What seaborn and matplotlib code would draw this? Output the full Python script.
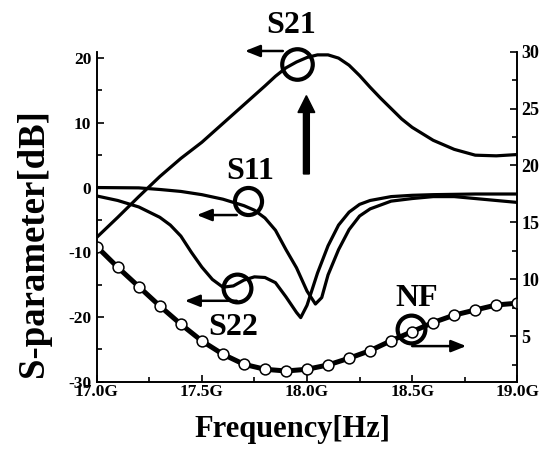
import numpy as np
import pandas as pd
import matplotlib
matplotlib.use("Agg")
import matplotlib.pyplot as plt
import seaborn as sns
from matplotlib.ticker import MultipleLocator, FuncFormatter

# ---- data ----
freq_s21 = [17.0, 17.1, 17.2, 17.3, 17.4, 17.5, 17.6, 17.7, 17.8, 17.85, 17.9, 17.95,
            18.0, 18.05, 18.1, 18.15, 18.2, 18.25, 18.3, 18.35, 18.4, 18.45, 18.5,
            18.6, 18.7, 18.8, 18.9, 19.0]
s21 = [-7.7, -4.6, -1.4, 1.7, 4.5, 7.0, 9.9, 12.8, 15.7, 17.2, 18.5, 19.4,
       20.1, 20.5, 20.5, 20.0, 18.9, 17.3, 15.5, 13.8, 12.2, 10.6, 9.3,
       7.3, 5.9, 5.0, 4.9, 5.1]

freq_s11 = [17.0, 17.2, 17.3, 17.4, 17.5, 17.6, 17.7, 17.75, 17.8, 17.85, 17.9, 17.95,
            18.0, 18.04, 18.07, 18.1, 18.15, 18.2, 18.25, 18.3, 18.4, 18.5, 18.6,
            18.7, 18.8, 18.9, 19.0]
s11 = [0.0, -0.05, -0.3, -0.6, -1.1, -1.8, -2.8, -3.5, -4.7, -6.6, -9.6, -12.4,
       -16.0, -18.0, -17.0, -13.5, -9.6, -6.5, -4.4, -3.3, -2.1, -1.7, -1.4,
       -1.4, -1.7, -2.0, -2.3]

freq_s22 = [17.0, 17.1, 17.2, 17.3, 17.35, 17.4, 17.45, 17.5, 17.55, 17.6, 17.65, 17.7,
            17.75, 17.8, 17.85, 17.9, 17.95, 17.97, 18.0, 18.05, 18.1, 18.15, 18.2,
            18.25, 18.3, 18.4, 18.5, 18.6, 18.8, 19.0]
s22 = [-1.3, -2.0, -3.0, -4.6, -5.8, -7.5, -10.0, -12.3, -14.2, -15.4, -15.2, -14.3,
       -13.8, -13.9, -14.7, -16.9, -19.3, -20.1, -18.2, -13.2, -9.0, -5.8, -3.8,
       -2.6, -2.0, -1.4, -1.2, -1.1, -1.0, -1.0]

freq_nf = [17.0, 17.1, 17.2, 17.3, 17.4, 17.5, 17.6, 17.7, 17.8, 17.9, 18.0,
           18.1, 18.2, 18.3, 18.4, 18.5, 18.6, 18.7, 18.8, 18.9, 19.0]
nf = [12.87, 11.05, 9.35, 7.65, 6.05, 4.58, 3.41, 2.53, 2.09, 1.94, 2.09,
      2.47, 3.06, 3.73, 4.6, 5.4, 6.2, 6.85, 7.3, 7.74, 7.9]

xticks = [17.0, 17.5, 18.0, 18.5, 19.0]
left_ticks = [-30, -20, -10, 0, 10, 20]
right_ticks = [5, 10, 15, 20, 25, 30]

# ---- style ----
sns.set_theme(style="white")
plt.rcParams["font.family"] = ["Liberation Serif", "DejaVu Serif"]
plt.rcParams["font.weight"] = "bold"
plt.rcParams["axes.labelweight"] = "bold"
plt.rcParams["axes.unicode_minus"] = False
plt.rcParams["text.color"] = "black"
plt.rcParams["axes.labelcolor"] = "black"
plt.rcParams["xtick.color"] = "black"
plt.rcParams["ytick.color"] = "black"

fig = plt.figure(figsize=(5.48, 4.57), dpi=100)
ax = fig.add_axes([0.1765, 0.1648, 0.7675, 0.7222])
ax2 = ax.twinx()

lw = 2.3
sns.lineplot(x=freq_s21, y=s21, ax=ax, color="black", lw=lw)
sns.lineplot(x=freq_s11, y=s11, ax=ax, color="black", lw=lw)
sns.lineplot(x=freq_s22, y=s22, ax=ax, color="black", lw=lw)
sns.lineplot(x=freq_nf, y=nf, ax=ax2, color="black", lw=3.6, marker="o",
             markersize=7.8, markerfacecolor="white", markeredgecolor="black",
             markeredgewidth=1.1)

ax.set_xlim(17.0, 19.0)
ax.set_ylim(-30, 21)
ax2.set_ylim(1, 30)
ax.set_xticks(xticks)
ax.set_yticks(left_ticks)
ax2.set_yticks(right_ticks)
ax.xaxis.set_minor_locator(MultipleLocator(0.25))
ax.yaxis.set_minor_locator(MultipleLocator(5))
ax2.yaxis.set_minor_locator(MultipleLocator(2.5))
ax.xaxis.set_major_formatter(FuncFormatter(lambda v, p: f"{v:.1f}G"))

for a in (ax, ax2):
    a.spines["top"].set_visible(False)
    for s in ("left", "right", "bottom"):
        a.spines[s].set_linewidth(1.2)
        a.spines[s].set_color("black")
ax.tick_params(axis="both", which="major", direction="in", length=5, width=1.2,
               labelsize=12.5, colors="black")
ax.tick_params(axis="both", which="minor", direction="in", length=3.5, width=1.2)
ax.tick_params(axis="x", pad=2)
ax.tick_params(axis="y", pad=4, left=True, right=False)
ax.tick_params(axis="x", bottom=True, top=False)
ax.tick_params(axis="y", which="minor", left=True, right=False)
ax.tick_params(axis="x", which="minor", bottom=True, top=False)
ax2.tick_params(axis="y", which="major", direction="in", length=5, width=1.2,
                labelsize=13, pad=3, right=True, left=False, colors="black")
ax2.tick_params(axis="y", which="minor", direction="in", length=3.5, width=1.2,
                right=True, left=False)
for lab in ax.get_xticklabels() + ax.get_yticklabels() + ax2.get_yticklabels():
    lab.set_fontweight("bold")

ax.set_xlabel("Frequency[Hz]", fontsize=22, fontweight="bold", color="black")
ax.xaxis.set_label_coords(0.466, -0.100)
ax.set_ylabel("S-parameter[dB]", fontsize=26.5, fontweight="bold", color="black")
ax.yaxis.set_label_coords(-0.108, 0.42)
ax2.set_ylabel("")

# ---- annotations (in left-axis data coordinates, drawn on top) ----
T = ax.transData
txt_kw = dict(fontsize=23, fontweight="bold", ha="center", va="center",
              transform=T, clip_on=False, color="black")
ax2.text(17.926, 25.0, "S21", **txt_kw)
ax2.text(17.729, 2.5, "S11", **txt_kw)
ax2.text(17.648, -21.6, "S22", **txt_kw)
ax2.text(18.52, -17.1, "NF", **txt_kw)

circles = [(17.95, 19.07, 22), (17.718, -2.06, 19.5), (17.666, -15.5, 20), (18.496, -21.8, 20)]
for cx, cy, ms in circles:
    ax2.plot([cx], [cy], marker="o", ms=ms, mfc="none", mec="black", mew=3.0,
             transform=T, clip_on=False)

arrows = [((17.885, 21.1), (17.705, 21.1)),
          ((17.666, -4.25), (17.476, -4.25)),
          ((17.666, -17.5), (17.419, -17.5)),
          ((18.50, -24.5), (18.757, -24.5))]
for (x0, y0), (x1, y1) in arrows:
    ax2.annotate("", xy=(x1, y1), xytext=(x0, y0), xycoords=T, textcoords=T,
                 arrowprops=dict(arrowstyle="-|>,head_length=0.5,head_width=0.2",
                                 mutation_scale=18, lw=1.8, color="black",
                                 shrinkA=0, shrinkB=0))

big = matplotlib.patches.FancyArrow(17.997, 2.1, 0, 12.1, width=0.028,
                                    head_width=0.08, head_length=2.6,
                                    length_includes_head=True, color="black",
                                    transform=T, clip_on=False)
ax2.add_patch(big)

fig.savefig("out.png", dpi=100)
